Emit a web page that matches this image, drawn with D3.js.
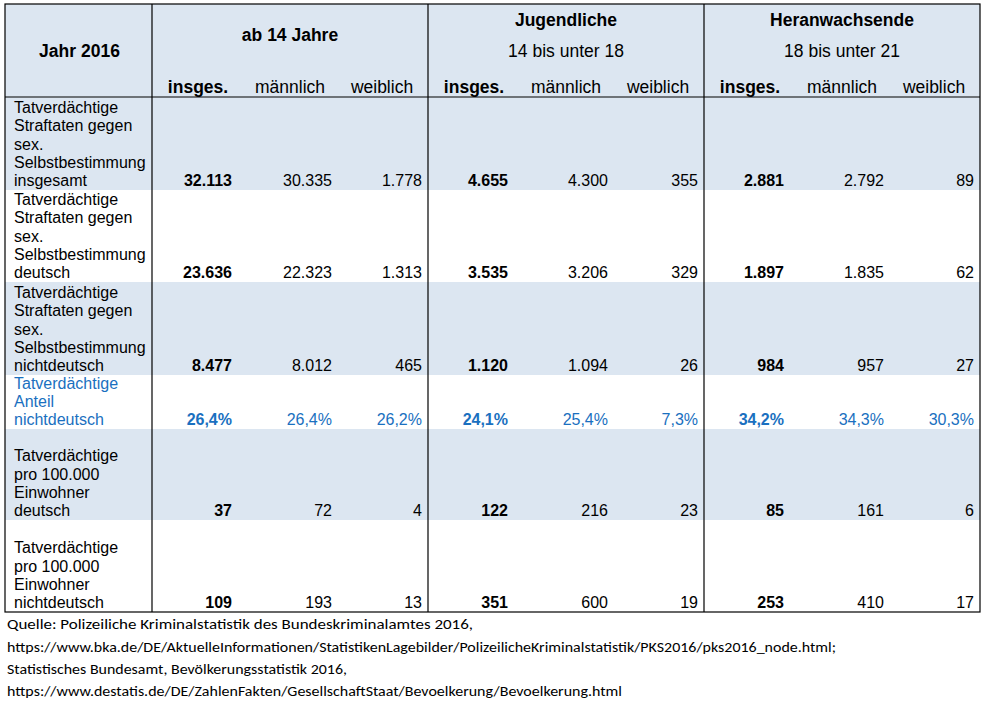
<!DOCTYPE html>
<html>
<head>
<meta charset="utf-8">
<script src="https://cdn.jsdelivr.net/npm/d3@7"></script>
<style>
  html, body { margin: 0; padding: 0; background: #fff; }
  svg { display: block; }
</style>
</head>
<body>
<svg id="chart" width="987" height="704"></svg>
<script>
// ---------- DATA ----------
const cornerLabel = "Jahr 2016";
const groups = ["ab 14 Jahre", "Jugendliche", "Heranwachsende"];
const groupSubtitles = ["", "14 bis unter 18", "18 bis unter 21"];
const subColumns = ["insges.", "männlich", "weiblich"];

const rowLabels = [
  ["Tatverdächtige", "Straftaten gegen", "sex.", "Selbstbestimmung", "insgesamt"],
  ["Tatverdächtige", "Straftaten gegen", "sex.", "Selbstbestimmung", "deutsch"],
  ["Tatverdächtige", "Straftaten gegen", "sex.", "Selbstbestimmung", "nichtdeutsch"],
  ["Tatverdächtige", "Anteil", "nichtdeutsch"],
  ["Tatverdächtige", "pro 100.000", "Einwohner", "deutsch"],
  ["Tatverdächtige", "pro 100.000", "Einwohner", "nichtdeutsch"]
];
const rowIsPercent = [false, false, false, true, false, false];

const insgesamtValues    = [32113, 30335, 1778, 4655, 4300, 355, 2881, 2792, 89];
const deutschValues      = [23636, 22323, 1313, 3535, 3206, 329, 1897, 1835, 62];
const nichtdeutschValues = [8477, 8012, 465, 1120, 1094, 26, 984, 957, 27];
const anteilValues       = [26.4, 26.4, 26.2, 24.1, 25.4, 7.3, 34.2, 34.3, 30.3];
const proDeutschValues   = [37, 72, 4, 122, 216, 23, 85, 161, 6];
const proNichtdeutschValues = [109, 193, 13, 351, 600, 19, 253, 410, 17];

const sourceLines = [
  "Quelle: Polizeiliche Kriminalstatistik des Bundeskriminalamtes 2016,",
  "https://www.bka.de/DE/AktuelleInformationen/StatistikenLagebilder/PolizeilicheKriminalstatistik/PKS2016/pks2016_node.html;",
  "Statistisches Bundesamt, Bevölkerungsstatistik 2016,",
  "https://www.destatis.de/DE/ZahlenFakten/GesellschaftStaat/Bevoelkerung/Bevoelkerung.html"
];

// ---------- LAYOUT ----------
const rows = [insgesamtValues, deutschValues, nichtdeutschValues, anteilValues, proDeutschValues, proNichtdeutschValues];
const rowHeights = [93, 93, 92, 93, 54, 91, 92]; // header + 6 rows
const tableLeft = 5, labelRight = 152, tableRight = 980, tableTop = 4;
const shaded = [true, true, false, true, false, true, false];
const bg = "#dce6f1";
const blue = "#1a70c0";
const font = "'Liberation Sans', Arial, sans-serif";

const de = d3.formatLocale({decimal: ",", thousands: ".", grouping: [3], currency: ["", "€"]});
const fmtInt = de.format(",d");
const fmtPct = v => de.format(".1f")(v) + "%";

const svg = d3.select("#chart");

const rowEdges = [tableTop];
rowHeights.forEach(h => rowEdges.push(rowEdges[rowEdges.length - 1] + h));
const tableBottom = rowEdges[rowEdges.length - 1];

const xGroup = d3.scaleBand().domain(groups).range([labelRight, tableRight]);
const colKeys = d3.range(9);
const xCol = d3.scaleBand().domain(colKeys).range([labelRight, tableRight]);
const rightPad = [12, 4, 6];

// backgrounds
svg.append("g").selectAll("rect")
  .data(rowHeights.map((h, i) => ({i, y: rowEdges[i], h})).filter(d => shaded[d.i]))
  .join("rect")
  .attr("x", tableLeft).attr("y", d => d.y)
  .attr("width", tableRight - tableLeft).attr("height", d => d.h)
  .attr("fill", bg);

// header
const header = svg.append("g").attr("font-family", font).attr("font-size", 17.5).attr("fill", "#000");
header.append("text")
  .attr("x", (tableLeft + labelRight) / 2 + 1).attr("y", 56.7)
  .attr("text-anchor", "middle").attr("font-weight", "bold")
  .text(cornerLabel);

groups.forEach((g, gi) => {
  const cx = xGroup(g) + xGroup.bandwidth() / 2;
  const hasSub = groupSubtitles[gi] !== "";
  header.append("text")
    .attr("x", cx).attr("y", hasSub ? 26 : 41)
    .attr("text-anchor", "middle").attr("font-weight", "bold")
    .text(g);
  if (hasSub) {
    header.append("text")
      .attr("x", cx).attr("y", 56.7)
      .attr("text-anchor", "middle")
      .text(groupSubtitles[gi]);
  }
});

header.selectAll("text.sub")
  .data(colKeys)
  .join("text")
  .attr("class", "sub")
  .attr("x", d => xCol(d) + xCol.bandwidth() / 2)
  .attr("y", 92.5)
  .attr("text-anchor", "middle")
  .attr("font-weight", d => d % 3 === 0 ? "bold" : "normal")
  .text(d => subColumns[d % 3]);

// body rows
const body = svg.append("g").attr("font-family", font).attr("font-size", 16);
rows.forEach((vals, ri) => {
  const bottom = rowEdges[ri + 2];
  const base = bottom - 3.8;
  const color = rowIsPercent[ri] ? blue : "#000";
  const lines = rowLabels[ri];
  body.append("g").selectAll("text")
    .data(lines)
    .join("text")
    .attr("x", 14)
    .attr("y", (d, li) => base - (lines.length - 1 - li) * 18.3)
    .attr("fill", color)
    .text(d => d);
  body.append("g").selectAll("text")
    .data(vals)
    .join("text")
    .attr("x", (d, ci) => xCol(ci) + xCol.bandwidth() - rightPad[ci % 3])
    .attr("y", base)
    .attr("text-anchor", "end")
    .attr("fill", color)
    .attr("font-weight", (d, ci) => ci % 3 === 0 ? "bold" : "normal")
    .text(d => rowIsPercent[ri] ? fmtPct(d) : fmtInt(d));
});

// grid lines
const grid = svg.append("g").attr("stroke", "#000").attr("stroke-width", 1.2).attr("fill", "none");
grid.append("rect")
  .attr("x", tableLeft).attr("y", tableTop)
  .attr("width", tableRight - tableLeft).attr("height", tableBottom - tableTop);
grid.selectAll("line.v")
  .data([labelRight, ...groups.slice(1).map(g => xGroup(g))])
  .join("line").attr("class", "v")
  .attr("x1", d => d).attr("x2", d => d)
  .attr("y1", tableTop).attr("y2", tableBottom);
grid.append("line")
  .attr("x1", tableLeft).attr("x2", tableRight)
  .attr("y1", rowEdges[1]).attr("y2", rowEdges[1]);

// source
const srcWidths = [466, 829, 340, 615];
const srcBase = [629, 652, 674, 696];
svg.append("g").attr("font-family", "Carlito, 'Liberation Sans Narrow', 'Liberation Sans', sans-serif")
  .attr("font-size", 15).attr("fill", "#000")
  .selectAll("text").data(sourceLines).join("text")
  .attr("x", 7)
  .attr("y", (d, i) => srcBase[i])
  .attr("textLength", (d, i) => srcWidths[i])
  .attr("lengthAdjust", "spacingAndGlyphs")
  .text(d => d);
</script>
</body>
</html>
